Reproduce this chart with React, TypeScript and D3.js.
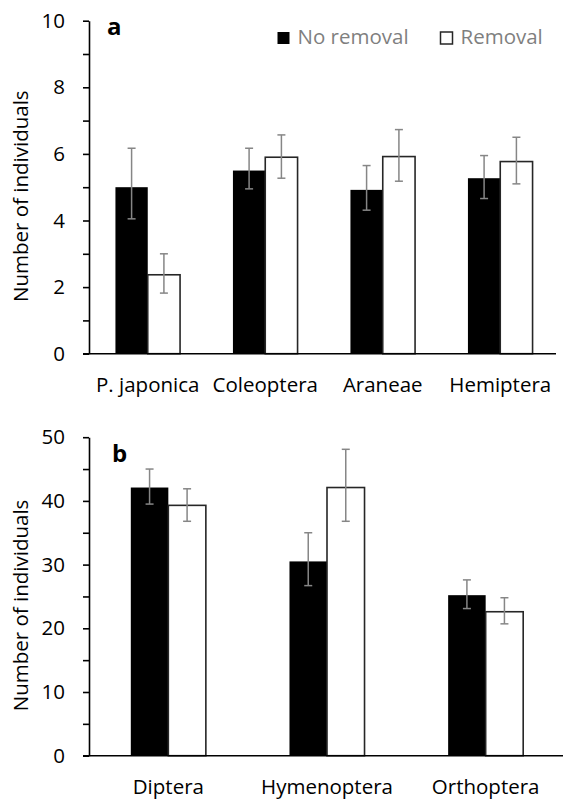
import React, { useEffect, useRef } from 'react';
import * as d3 from 'd3';

// panel a
const catsA = ['P. japonica', 'Coleoptera', 'Araneae', 'Hemiptera'];
const noRemA = [5.0, 5.5, 4.92, 5.27];
const noRemAHi = [6.17, 6.17, 5.65, 5.95];
const noRemALo = [4.05, 4.95, 4.31, 4.66];
const remA = [2.37, 5.9, 5.92, 5.77];
const remAHi = [3.0, 6.57, 6.73, 6.5];
const remALo = [1.82, 5.27, 5.18, 5.1];

// panel b
const catsB = ['Diptera', 'Hymenoptera', 'Orthoptera'];
const noRemB = [42.1, 30.5, 25.2];
const noRemBHi = [45.0, 35.0, 27.6];
const noRemBLo = [39.5, 26.7, 23.1];
const remB = [39.3, 42.1, 22.6];
const remBHi = [41.9, 48.1, 24.8];
const remBLo = [36.8, 36.8, 20.7];

const seriesNames = ['No removal', 'Removal'];
const FONT = '"Open Sans", sans-serif';

function drawPanel(svg, opts) {
    const { cats, series, yMax, yTop, yBottom, xLeft, xRight, axisEnd, minorStep, majorStep, groupPad, letter, letterX, letterY } = opts;

    const g = svg.append('g');
    const x = d3.scaleBand().domain(cats).range([xLeft, xRight]).paddingInner(groupPad).paddingOuter(groupPad / 2);
    const xs = d3.scaleBand().domain(seriesNames).range([0, x.bandwidth()]);
    const y = d3.scaleLinear().domain([0, yMax]).range([yBottom, yTop]);

    // bars
    series.forEach((s, si) => {
        g.selectAll(null)
            .data(s.vals)
            .enter()
            .append('rect')
            .attr('x', (d, i) => x(cats[i]) + xs(seriesNames[si]))
            .attr('y', d => y(d))
            .attr('width', xs.bandwidth())
            .attr('height', d => y(0) - y(d))
            .attr('fill', si === 0 ? '#000' : '#fff')
            .attr('stroke', si === 0 ? '#000' : '#262626')
            .attr('stroke-width', si === 0 ? 0 : 1.6);
    });

    // error bars
    series.forEach((s, si) => {
        s.vals.forEach((v, i) => {
            const cx = x(cats[i]) + xs(seriesNames[si]) + xs.bandwidth() / 2;
            const eb = g.append('g').attr('stroke', '#868686').attr('stroke-width', 1.5);
            eb.append('line').attr('x1', cx).attr('x2', cx).attr('y1', y(s.lo[i])).attr('y2', y(s.hi[i]));
            eb.append('line').attr('x1', cx - 4).attr('x2', cx + 4).attr('y1', y(s.lo[i])).attr('y2', y(s.lo[i]));
            eb.append('line').attr('x1', cx - 4).attr('x2', cx + 4).attr('y1', y(s.hi[i])).attr('y2', y(s.hi[i]));
        });
    });

    // y axis
    const yAxis = d3.axisLeft(y)
        .tickValues(d3.range(0, yMax + minorStep / 2, minorStep))
        .tickFormat(d => (Math.round(d) % majorStep === 0 ? String(d) : ''))
        .tickSize(6)
        .tickSizeOuter(0)
        .tickPadding(18);
    const ya = g.append('g').attr('transform', `translate(${xLeft},0)`).call(yAxis);
    ya.select('.domain').attr('stroke', '#000').attr('stroke-width', 1.6);
    ya.selectAll('.tick line').attr('stroke', '#000').attr('stroke-width', 1.6);
    ya.selectAll('.tick text').attr('font-family', FONT).attr('font-size', 20.5).attr('fill', '#000');

    // x axis line
    g.append('line')
        .attr('x1', xLeft - 6).attr('x2', axisEnd)
        .attr('y1', y(0)).attr('y2', y(0))
        .attr('stroke', '#000').attr('stroke-width', 1.6);

    // category labels
    g.selectAll(null)
        .data(cats)
        .enter()
        .append('text')
        .attr('x', d => x(d) + x.bandwidth() / 2)
        .attr('y', y(0) + 38)
        .attr('text-anchor', 'middle')
        .attr('font-family', FONT)
        .attr('font-size', 20.5)
        .attr('fill', '#000')
        .text(d => d);

    // y title
    g.append('text')
        .attr('transform', `translate(28,${(yTop + yBottom) / 2 + 9}) rotate(-90)`)
        .attr('text-anchor', 'middle')
        .attr('font-family', FONT)
        .attr('font-size', 20.5)
        .attr('fill', '#000')
        .text('Number of individuals');

    // panel letter
    g.append('text')
        .attr('x', letterX).attr('y', letterY)
        .attr('font-family', FONT)
        .attr('font-weight', 'bold')
        .attr('font-size', 24)
        .attr('fill', '#000')
        .text(letter);
}

export default function App() {
    const svgRef = useRef(null);

    useEffect(() => {
        if (!svgRef.current) return;
        const svg = d3.select(svgRef.current);
        svg.selectAll('*').remove();

        drawPanel(svg, {
            cats: catsA,
            series: [
                { vals: noRemA, hi: noRemAHi, lo: noRemALo },
                { vals: remA, hi: remAHi, lo: remALo },
            ],
            yMax: 10, yTop: 20.7, yBottom: 353.7,
            xLeft: 89, xRight: 559, axisEnd: 556,
            minorStep: 1, majorStep: 2, groupPad: 0.45,
            letter: 'a', letterX: 107, letterY: 35,
        });

        drawPanel(svg, {
            cats: catsB,
            series: [
                { vals: noRemB, hi: noRemBHi, lo: noRemBLo },
                { vals: remB, hi: remBHi, lo: remBLo },
            ],
            yMax: 50, yTop: 437.2, yBottom: 755.7,
            xLeft: 89, xRight: 565, axisEnd: 563,
            minorStep: 5, majorStep: 10, groupPad: 0.527,
            letter: 'b', letterX: 112, letterY: 461.5,
        });

        // legend
        const lg = svg.append('g');
        seriesNames.forEach((name, i) => {
            const lx = i === 0 ? 277.5 : 440.5;
            lg.append('rect')
                .attr('x', lx).attr('y', 32)
                .attr('width', 12).attr('height', 12)
                .attr('fill', i === 0 ? '#000' : '#fff')
                .attr('stroke', i === 0 ? 'none' : '#262626')
                .attr('stroke-width', 1.5);
            lg.append('text')
                .attr('x', lx + 20).attr('y', 44)
                .attr('font-family', FONT)
                .attr('font-size', 20.5)
                .attr('fill', '#7f7f7f')
                .text(name);
        });
    }, []);

    return (
        <svg ref={svgRef} width={563} height={801}
            style={{ position: 'absolute', left: 0, top: 0, background: '#fff' }} />
    );
}
